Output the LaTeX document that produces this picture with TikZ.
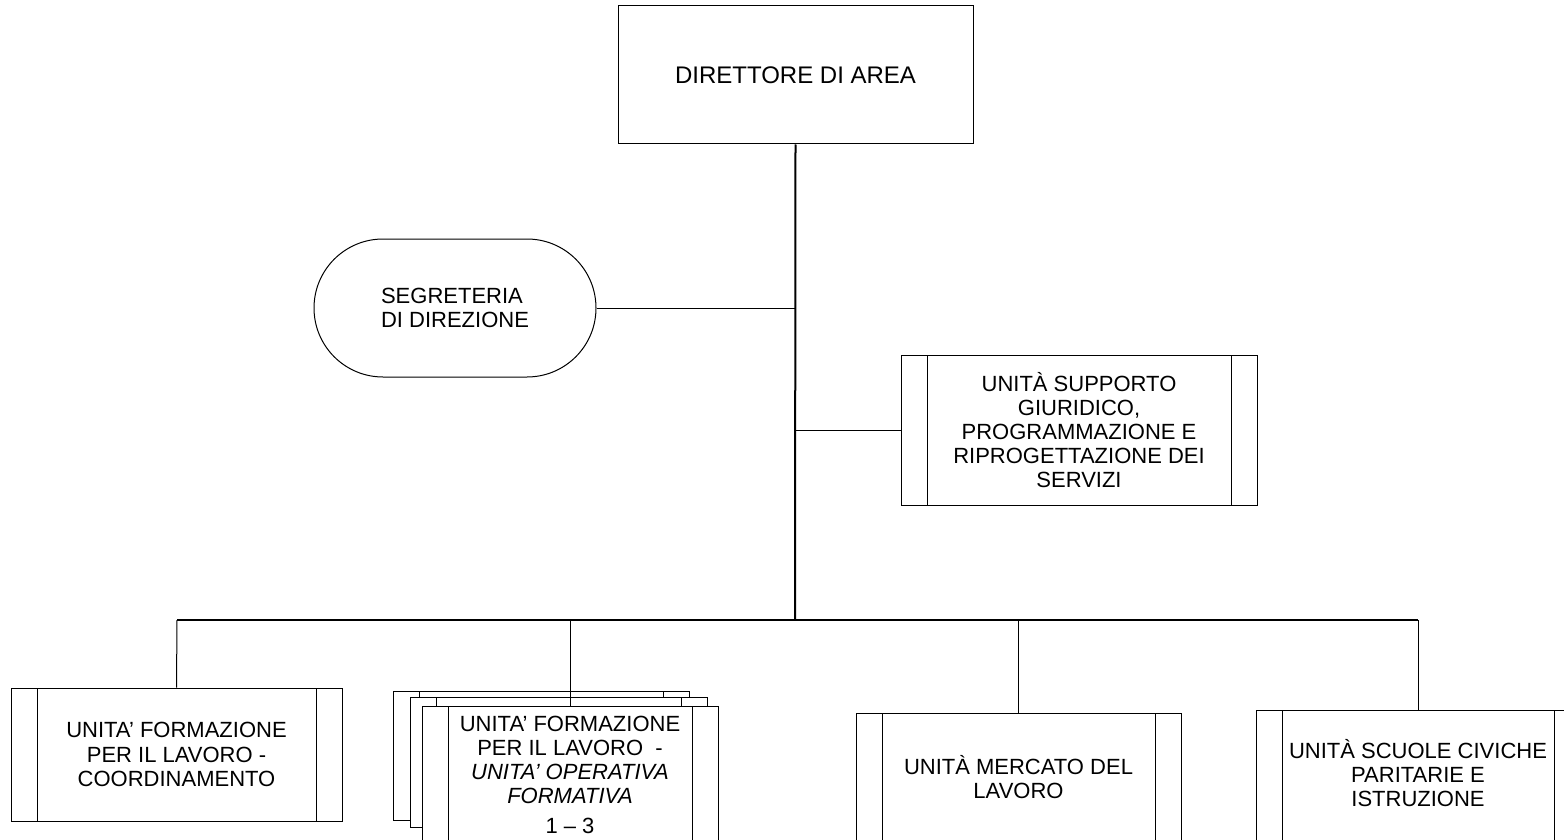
\documentclass[tikz,border=0pt]{standalone}
\usepackage{fontspec}
\setmainfont{Liberation Sans}
\usetikzlibrary{shapes.misc}
\tikzset{
  txt/.style={font=\fontsize{11}{12.1}\selectfont, align=center, inner sep=0pt},
  plainbox/.style={draw, rectangle, line width=0.5pt, inner sep=0pt, fill=white},
  procbox/.style={plainbox, path picture={
      \draw[line width=0.5pt] ([xshift=13pt]path picture bounding box.north west) -- ([xshift=13pt]path picture bounding box.south west);
      \draw[line width=0.5pt] ([xshift=-13pt]path picture bounding box.north east) -- ([xshift=-13pt]path picture bounding box.south east);}},
  trunk/.style={line width=1pt},
  busline/.style={line width=0.75pt},
  link/.style={line width=0.5pt}
}
\begin{document}
\begin{tikzpicture}[x=0.5pt,y=-0.5pt]
\useasboundingbox (0,0) rectangle (1564,840);
\clip (0,0) rectangle (1564,840);

% top
\node[plainbox, minimum width=177.5pt, minimum height=69pt, font=\fontsize{12}{14}\selectfont] (dir) at (795.5,75) {DIRETTORE DI AREA};

\node[draw, rounded rectangle, line width=0.5pt, minimum width=141pt, minimum height=69pt, inner sep=0pt, txt, align=left] (seg) at (455,308) {SEGRETERIA\\DI DIREZIONE};

\node[procbox, minimum width=178pt, minimum height=75pt, txt] (sup) at (1079,430) {UNITÀ SUPPORTO\\GIURIDICO,\\PROGRAMMAZIONE E\\RIPROGETTAZIONE DEI\\SERVIZI};

% junctions
\coordinate (jseg) at (795,308);
\coordinate (jsup) at (795,430);
\coordinate (jbus) at (795,620);
\coordinate (b1) at (177,620);
\coordinate (b2) at (570,620);
\coordinate (b3) at (1018.5,620);
\coordinate (b4) at (1418,620);

% bottom boxes
\node[procbox, minimum width=165.5pt, minimum height=66.5pt, txt] (coo) at (176.5,754.5) {UNITA’ FORMAZIONE\\PER IL LAVORO -\\COORDINAMENTO};

\node[procbox, minimum width=148pt, minimum height=64.5pt] (sb1) at (541,755.5) {};
\node[procbox, minimum width=148.5pt, minimum height=65pt] (sb2) at (558.5,762) {};
\node[procbox, minimum width=148pt, minimum height=80pt] (sb3) at (570,786) {};
\node[txt] (t3) at (570,775) {UNITA’ FORMAZIONE\\PER IL LAVORO\ \ -\\\textit{UNITA’ OPERATIVA}\\\textit{FORMATIVA}\\[3pt]1 – 3};

\node[procbox, minimum width=162.5pt, minimum height=73.5pt] (mer) at (1018.5,786.5) {};
\node[txt] (tm) at (1018.5,777) {UNITÀ MERCATO DEL\\LAVORO};

\node[procbox, minimum width=162pt, minimum height=75pt] (scu) at (1418,785) {};
\node[txt] (ts) at (1418,773) {UNITÀ SCUOLE CIVICHE\\PARITARIE E\\ISTRUZIONE};

% connectors
\draw[trunk] (dir.south) -- (jbus);
\draw[link] (seg.east) -- (jseg);
\draw[link] (jsup) -- (sup.west);
\draw[busline] (b1) -- (b4);
\draw[link] (b1) -- (coo.north);
\draw[link] (b2) -- (sb3.north);
\draw[link] (b3) -- (mer.north);
\draw[link] (b4) -- (scu.north);
\end{tikzpicture}
\end{document}
